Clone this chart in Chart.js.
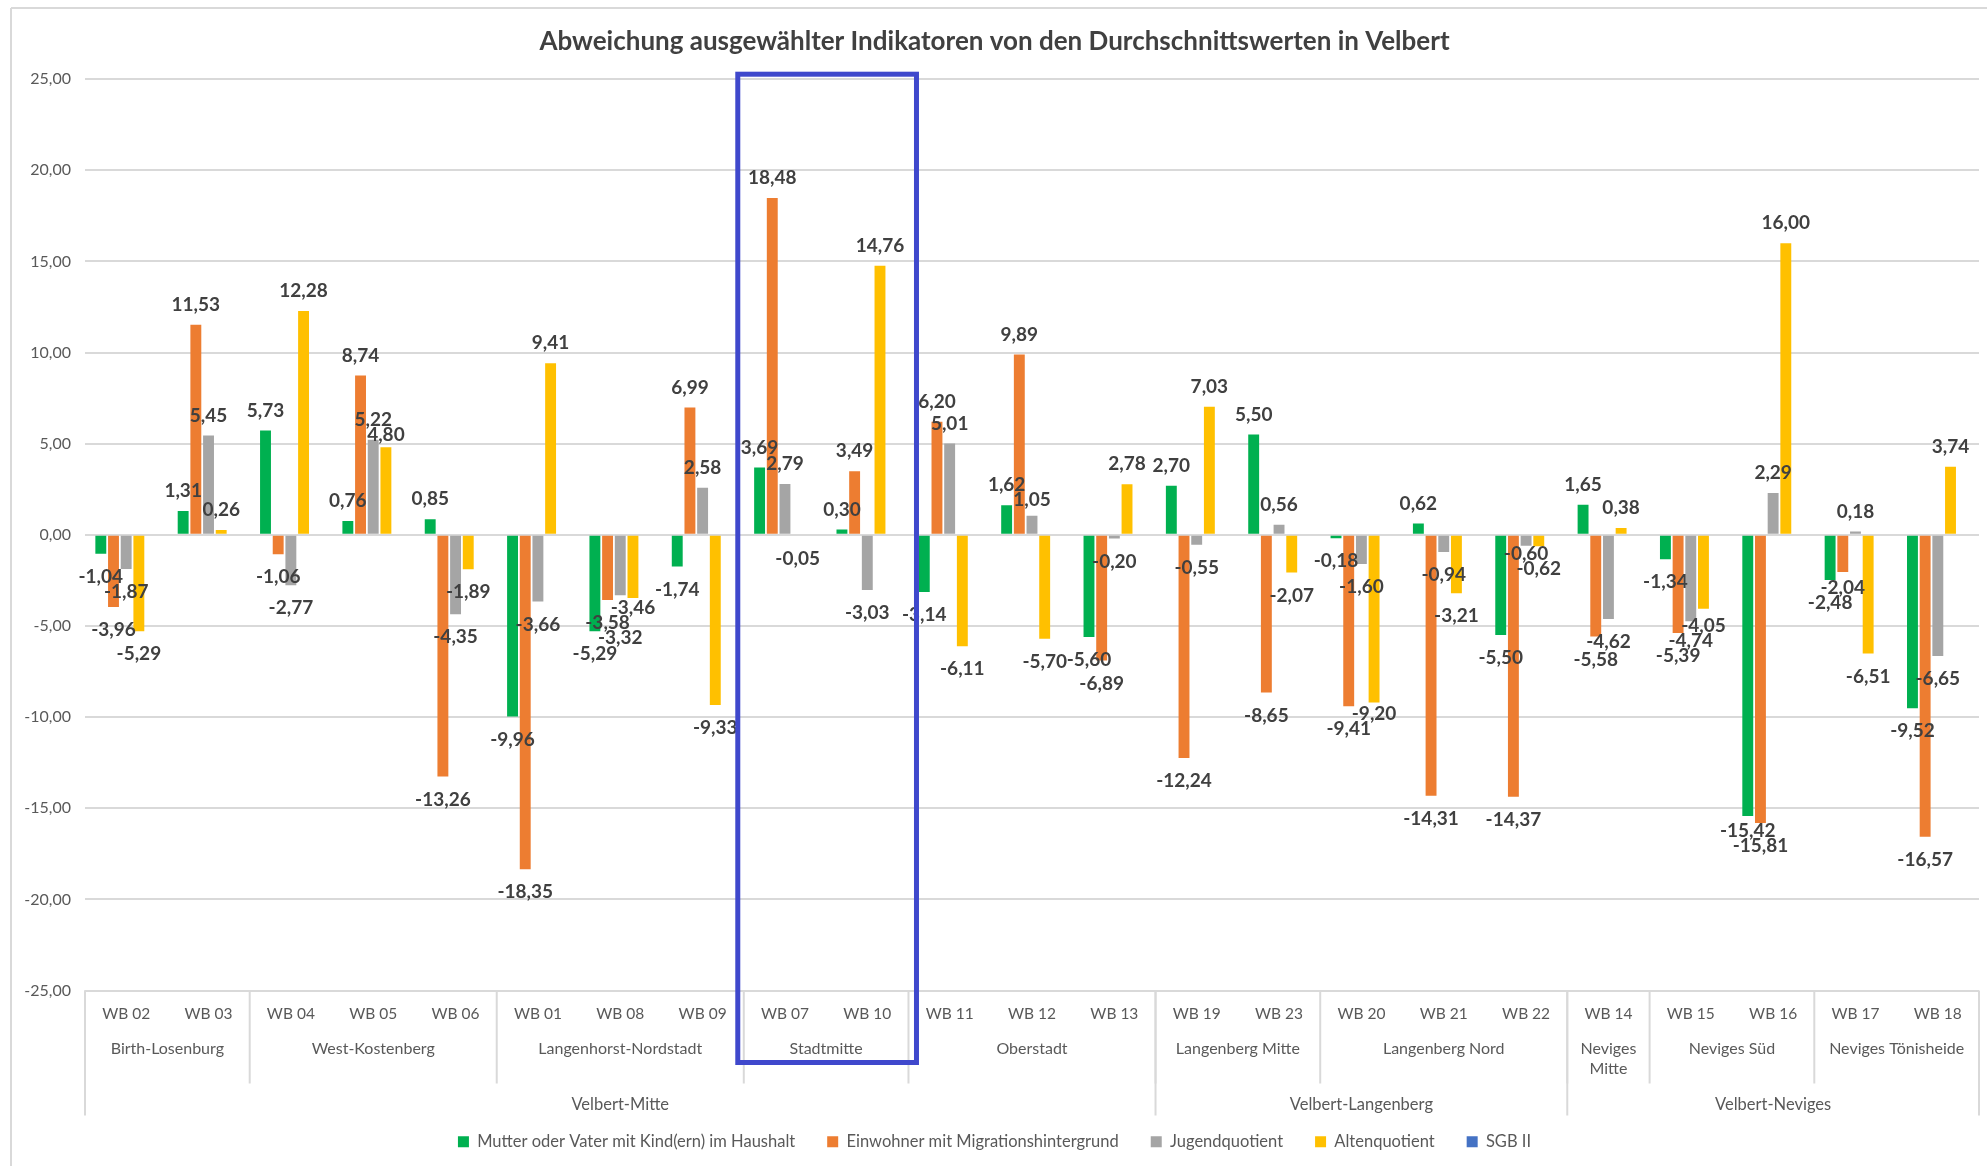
<!DOCTYPE html>
<html>
<head>
<meta charset="utf-8">
<script src="https://cdn.jsdelivr.net/npm/chart.js@4.4.0/dist/chart.umd.min.js"></script>
<style>
  html, body { margin: 0; padding: 0; background: #fff; }
  #chart { display: block; }
</style>
</head>
<body>
<canvas id="chart" width="1987" height="1166"></canvas>
<script>
// Wohnbezirke (x-Achse, unterste Ebene)
const labels = ['WB 02', 'WB 03', 'WB 04', 'WB 05', 'WB 06', 'WB 01', 'WB 08', 'WB 09', 'WB 07', 'WB 10',
  'WB 11', 'WB 12', 'WB 13', 'WB 19', 'WB 23', 'WB 20', 'WB 21', 'WB 22', 'WB 14', 'WB 15', 'WB 16', 'WB 17', 'WB 18'];

// Stadtteile (zweite Ebene) und wie viele Bezirke jeweils dazugehören
const districtNames = ['Birth-Losenburg', 'West-Kostenberg', 'Langenhorst-Nordstadt', 'Stadtmitte', 'Oberstadt',
  'Langenberg Mitte', 'Langenberg Nord', ['Neviges', 'Mitte'], 'Neviges Süd', 'Neviges Tönisheide'];
const districtSizes = [2, 3, 3, 2, 3, 2, 3, 1, 2, 2];

// Stadtbezirke (dritte Ebene)
const regionNames = ['Velbert-Mitte', 'Velbert-Langenberg', 'Velbert-Neviges'];
const regionSizes = [13, 5, 5];

const mutterVater = [-1.04, 1.31, 5.73, 0.76, 0.85, -9.96, -5.29, -1.74, 3.69, 0.30,
  -3.14, 1.62, -5.60, 2.70, 5.50, -0.18, 0.62, -5.50, 1.65, -1.34, -15.42, -2.48, -9.52];
const migration = [-3.96, 11.53, -1.06, 8.74, -13.26, -18.35, -3.58, 6.99, 18.48, 3.49,
  6.20, 9.89, -6.89, -12.24, -8.65, -9.41, -14.31, -14.37, -5.58, -5.39, -15.81, -2.04, -16.57];
const jugend = [-1.87, 5.45, -2.77, 5.22, -4.35, -3.66, -3.32, 2.58, 2.79, -3.03,
  5.01, 1.05, -0.20, -0.55, 0.56, -1.60, -0.94, -0.60, -4.62, -4.74, 2.29, 0.18, -6.65];
const alten = [-5.29, 0.26, 12.28, 4.80, -1.89, 9.41, -3.46, -9.33, -0.05, 14.76,
  -6.11, -5.70, 2.78, 7.03, -2.07, -9.20, -3.21, -0.62, 0.38, -4.05, 16.00, -6.51, 3.74];
const sgb2 = labels.map(() => null);

// the highlighted Stadtteil
const highlightDistrict = 3;

const FONT = 'Lato, "Open Sans", sans-serif';
const fmt = v => v.toFixed(2).replace('.', ',');

// value labels at the bar ends; when two labels of one group collide,
// the label of the shorter bar is pushed towards the zero line
const barLabels = {
  id: 'barLabels',
  afterDatasetsDraw(chart) {
    const ctx = chart.ctx;
    const H = 15;
    ctx.save();
    ctx.font = 'bold 19px ' + FONT;
    ctx.fillStyle = '#404040';
    ctx.textAlign = 'center';
    ctx.textBaseline = 'middle';
    const metas = chart.data.datasets.map((ds, i) => chart.getDatasetMeta(i));
    chart.data.labels.forEach((_, j) => {
      const items = [];
      chart.data.datasets.forEach((ds, i) => {
        const v = ds.data[j];
        if (v === null || v === undefined) return;
        const bar = metas[i].data[j];
        items.push({ v, x: bar.x, end: bar.y, text: fmt(v), w: ctx.measureText(fmt(v)).width });
      });
      items.sort((a, b) => Math.abs(b.v) - Math.abs(a.v));
      const placed = [];
      items.forEach(it => {
        const natural = it.v >= 0 ? it.end - 20 : it.end + 23;
        const hit = y => placed.find(p => Math.abs(p.x - it.x) < (p.w + it.w) / 2 - 4 && Math.abs(p.y - y) < H);
        const shift = dir => {
          let y = natural, c = hit(y);
          while (c) { y = c.y + dir * H; c = hit(y); }
          return y;
        };
        const toZero = it.v >= 0 ? 1 : -1;
        let y = shift(toZero);
        const ok = it.v >= 0 ? y <= it.end - H / 2 : y >= it.end + H / 2;
        if (!ok) y = shift(-toZero);
        it.y = y;
        placed.push(it);
        ctx.fillText(it.text, it.x, y);
      });
    });
    ctx.restore();
  }
};

const groupAxis = {
  id: 'groupAxis',
  beforeDraw(chart) {
    const ctx = chart.ctx;
    ctx.save();
    ctx.strokeStyle = '#d9d9d9';
    ctx.lineWidth = 2;
    ctx.beginPath();
    ctx.moveTo(11, 8);
    ctx.lineTo(chart.width, 8);
    ctx.moveTo(11, 8);
    ctx.lineTo(11, chart.height);
    ctx.stroke();
    ctx.restore();
  },
  afterDraw(chart) {
    const ctx = chart.ctx;
    const x = chart.scales.x;
    const area = chart.chartArea;
    const step = x.getPixelForValue(1) - x.getPixelForValue(0);
    const edge = i => x.getPixelForValue(0) - step / 2 + i * step;
    const level2Bottom = area.bottom + 93;
    const level3Bottom = area.bottom + 125;

    ctx.save();
    ctx.strokeStyle = '#d9d9d9';
    ctx.lineWidth = 2;
    ctx.fillStyle = '#595959';
    ctx.textAlign = 'center';
    ctx.textBaseline = 'middle';

    // Stadtteile
    ctx.font = '16px ' + FONT;
    let start = 0;
    districtSizes.forEach((n, k) => {
      const x0 = edge(start), x1 = edge(start + n);
      const name = districtNames[k];
      const lines = Array.isArray(name) ? name : [name];
      lines.forEach((t, li) => ctx.fillText(t, (x0 + x1) / 2, area.bottom + 58 + li * 20));
      ctx.beginPath();
      ctx.moveTo(x0, area.bottom);
      ctx.lineTo(x0, level2Bottom);
      ctx.stroke();
      start += n;
    });

    // Stadtbezirke
    ctx.font = '16.5px ' + FONT;
    start = 0;
    regionSizes.forEach((n, k) => {
      const x0 = edge(start), x1 = edge(start + n);
      ctx.fillText(regionNames[k], (x0 + x1) / 2, area.bottom + 114);
      ctx.beginPath();
      ctx.moveTo(x0, area.bottom);
      ctx.lineTo(x0, level3Bottom);
      ctx.stroke();
      start += n;
    });
    ctx.beginPath();
    ctx.moveTo(edge(labels.length), area.bottom);
    ctx.lineTo(edge(labels.length), level3Bottom);
    ctx.stroke();

    // blue frame around Stadtmitte
    let first = 0;
    for (let k = 0; k < highlightDistrict; k++) first += districtSizes[k];
    const last = first + districtSizes[highlightDistrict];
    ctx.strokeStyle = '#3f48cc';
    ctx.lineWidth = 5;
    ctx.strokeRect(edge(first) - 6, area.top - 5, edge(last) - edge(first) + 14, level2Bottom - area.top - 16);
    ctx.restore();
  }
};

new Chart(document.getElementById('chart'), {
  type: 'bar',
  data: {
    labels: labels,
    datasets: [
      { label: 'Mutter oder Vater mit Kind(ern) im Haushalt', data: mutterVater, backgroundColor: '#00b050' },
      { label: 'Einwohner mit Migrationshintergrund', data: migration, backgroundColor: '#ed7d31' },
      { label: 'Jugendquotient', data: jugend, backgroundColor: '#a5a5a5' },
      { label: 'Altenquotient', data: alten, backgroundColor: '#ffc000' },
      { label: 'SGB II', data: sgb2, backgroundColor: '#4472c4' },
    ],
  },
  options: {
    responsive: false,
    animation: false,
    devicePixelRatio: 1,
    categoryPercentage: 0.77,
    barPercentage: 0.86,
    layout: { padding: { left: 10, right: 8, top: 0, bottom: 6 } },
    plugins: {
      tooltip: { enabled: false },
      title: {
        display: true,
        text: 'Abweichung ausgewählter Indikatoren von den Durchschnittswerten in Velbert',
        color: '#404040',
        font: { family: FONT, size: 26, weight: 'bold' },
        padding: { top: 26, bottom: 22 },
      },
      legend: {
        position: 'bottom',
        labels: {
          color: '#595959',
          font: { family: FONT, size: 16.5 },
          boxWidth: 11,
          boxHeight: 11,
          padding: 32,
        },
      },
    },
    scales: {
      x: {
        grid: { display: false },
        border: { display: false },
        ticks: { color: '#595959', font: { family: FONT, size: 15.5 }, padding: 6, maxRotation: 0, autoSkip: false },
        afterFit(scale) { scale.height = 111; },
      },
      y: {
        min: -25,
        max: 25,
        grid: { color: '#d9d9d9', lineWidth: 2, drawTicks: false },
        border: { display: false },
        ticks: { stepSize: 5, color: '#595959', font: { family: FONT, size: 16 }, padding: 14, callback: v => fmt(v) },
        afterFit(scale) { scale.width = 75; },
      },
    },
  },
  plugins: [barLabels, groupAxis],
});
</script>
</body>
</html>
